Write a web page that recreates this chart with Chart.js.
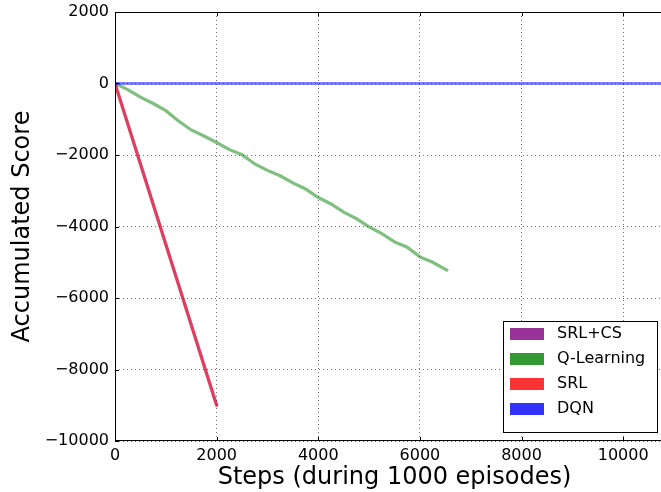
<!DOCTYPE html>
<html>
<head>
<meta charset="utf-8">
<script src="https://cdn.jsdelivr.net/npm/chart.js@4"></script>
<style>
    html, body { margin: 0; padding: 0; background: #fff; }
    #wrap { width: 661px; height: 492px; overflow: hidden; }
</style>
</head>
<body>
<div id="wrap"><canvas id="chart" width="675" height="492"></canvas></div>
<script>
// series (steps -> accumulated score)
const dqnSteps = [0, 11000];
const dqnScore = [0, 0];

const srlSteps = [0, 2000];
const srlScore = [0, -9000];

const srlcsSteps = [0, 2000];
const srlcsScore = [0, -9000];

const qSteps = [0, 250, 500, 750, 1000, 1250, 1500, 1750, 2000, 2250, 2500, 2750, 3000,
    3250, 3500, 3750, 4000, 4250, 4500, 4750, 5000, 5250, 5500, 5750, 6000, 6250, 6530];
const qScore = [0, -170, -380, -560, -760, -1050, -1300, -1470, -1650, -1850, -1990, -2250, -2430,
    -2580, -2780, -2950, -3190, -3370, -3600, -3780, -4010, -4200, -4430, -4580, -4850, -5000, -5220];

// axes
const xTicks = [0, 2000, 4000, 6000, 8000, 10000];
const yTicks = [-10000, -8000, -6000, -4000, -2000, 0, 2000];

// legend
const legendLabels = ["SRL+CS", "Q-Learning", "SRL", "DQN"];
const legendColors = ["rgba(128,0,128,0.8)", "rgba(0,128,0,0.8)", "rgba(255,0,0,0.8)", "rgba(0,0,255,0.8)"];

function pts(xs, ys) {
    return xs.map((x, i) => ({x: x, y: ys[i]}));
}

function fmt(v) {
    return String(v).replace("-", "\u2212");
}

/* ---------- FRAME + INWARD TICKS ---------- */
const framePlugin = {
    id: "frame",
    afterDatasetsDraw(chart) {
        const {ctx, chartArea: a, scales: {x, y}} = chart;
        ctx.save();
        ctx.strokeStyle = "#000";
        ctx.lineWidth = 1;
        ctx.beginPath();
        xTicks.forEach(v => {
            const px = Math.round(x.getPixelForValue(v)) + 0.5;
            ctx.moveTo(px, a.bottom); ctx.lineTo(px, a.bottom - 4);
            ctx.moveTo(px, a.top); ctx.lineTo(px, a.top + 4);
        });
        yTicks.forEach(v => {
            const py = Math.round(y.getPixelForValue(v)) + 0.5;
            ctx.moveTo(a.left, py); ctx.lineTo(a.left + 4, py);
            ctx.moveTo(a.right, py); ctx.lineTo(a.right - 4, py);
        });
        ctx.stroke();
        ctx.strokeRect(a.left + 0.5, a.top + 0.5, a.width - 1, a.height - 1);
        ctx.restore();
    }
};

/* ---------- LEGEND BOX ---------- */
const legendPlugin = {
    id: "boxLegend",
    afterDraw(chart) {
        const ctx = chart.ctx;
        const bx = 503.5, by = 321.5, bw = 154, bh = 111;
        ctx.save();
        ctx.fillStyle = "#fff";
        ctx.fillRect(bx, by, bw, bh);
        ctx.strokeStyle = "#000";
        ctx.lineWidth = 1;
        ctx.strokeRect(bx, by, bw, bh);
        ctx.font = "16px 'DejaVu Sans'";
        ctx.textBaseline = "middle";
        legendLabels.forEach((label, i) => {
            const cy = 334 + i * 25;
            ctx.fillStyle = legendColors[i];
            ctx.fillRect(510, cy - 6, 34, 12);
            ctx.fillStyle = "#000";
            ctx.fillText(label, 557, cy);
        });
        ctx.restore();
    }
};

new Chart(document.getElementById("chart"), {
    type: "line",
    data: {
        datasets: [
            {label: "DQN", data: pts(dqnSteps, dqnScore), borderColor: "rgba(0,0,255,0.5)", order: 1},
            {label: "SRL", data: pts(srlSteps, srlScore), borderColor: "rgba(255,0,0,0.5)", order: 2},
            {label: "Q-Learning", data: pts(qSteps, qScore), borderColor: "rgba(0,128,0,0.5)", order: 3},
            {label: "SRL+CS", data: pts(srlcsSteps, srlcsScore), borderColor: "rgba(128,0,128,0.5)", order: 4}
        ]
    },
    options: {
        responsive: false,
        animation: false,
        parsing: false,
        layout: {padding: {top: 12, right: 1, left: 0, bottom: 0}},
        elements: {
            point: {radius: 0},
            line: {borderWidth: 3.2, tension: 0, fill: false, borderCapStyle: "round"}
        },
        plugins: {legend: {display: false}, tooltip: {enabled: false}},
        scales: {
            x: {
                type: "linear",
                min: 0,
                max: 11000,
                afterFit(scale) { scale.height = 51; scale.paddingLeft = 0; scale.paddingRight = 0; },
                afterBuildTicks(scale) { scale.ticks = xTicks.map(v => ({value: v})); },
                grid: {color: "rgba(0,0,0,0.55)", drawTicks: false, lineWidth: 1},
                border: {display: false, dash: [1, 3]},
                ticks: {
                    padding: 5, color: "#000", maxRotation: 0,
                    font: {family: "DejaVu Sans", size: 16},
                    callback: v => fmt(v)
                },
                title: {
                    display: true, text: "Steps (during 1000 episodes)", color: "#000",
                    font: {family: "DejaVu Sans", size: 24}, padding: {top: 0, bottom: 0}
                }
            },
            y: {
                type: "linear",
                min: -10000,
                max: 2000,
                afterFit(scale) { scale.width = 115; scale.paddingTop = 0; scale.paddingBottom = 0; },
                afterBuildTicks(scale) { scale.ticks = yTicks.map(v => ({value: v})); },
                grid: {color: "rgba(0,0,0,0.55)", drawTicks: false, lineWidth: 1},
                border: {display: false, dash: [1, 3]},
                ticks: {
                    padding: 6, color: "#000",
                    font: {family: "DejaVu Sans", size: 16},
                    callback: v => fmt(v)
                },
                title: {
                    display: true, text: "Accumulated Score", color: "#000",
                    font: {family: "DejaVu Sans", size: 24}, padding: {top: 8, bottom: 0}
                }
            }
        }
    },
    plugins: [framePlugin, legendPlugin]
});
</script>
</body>
</html>
